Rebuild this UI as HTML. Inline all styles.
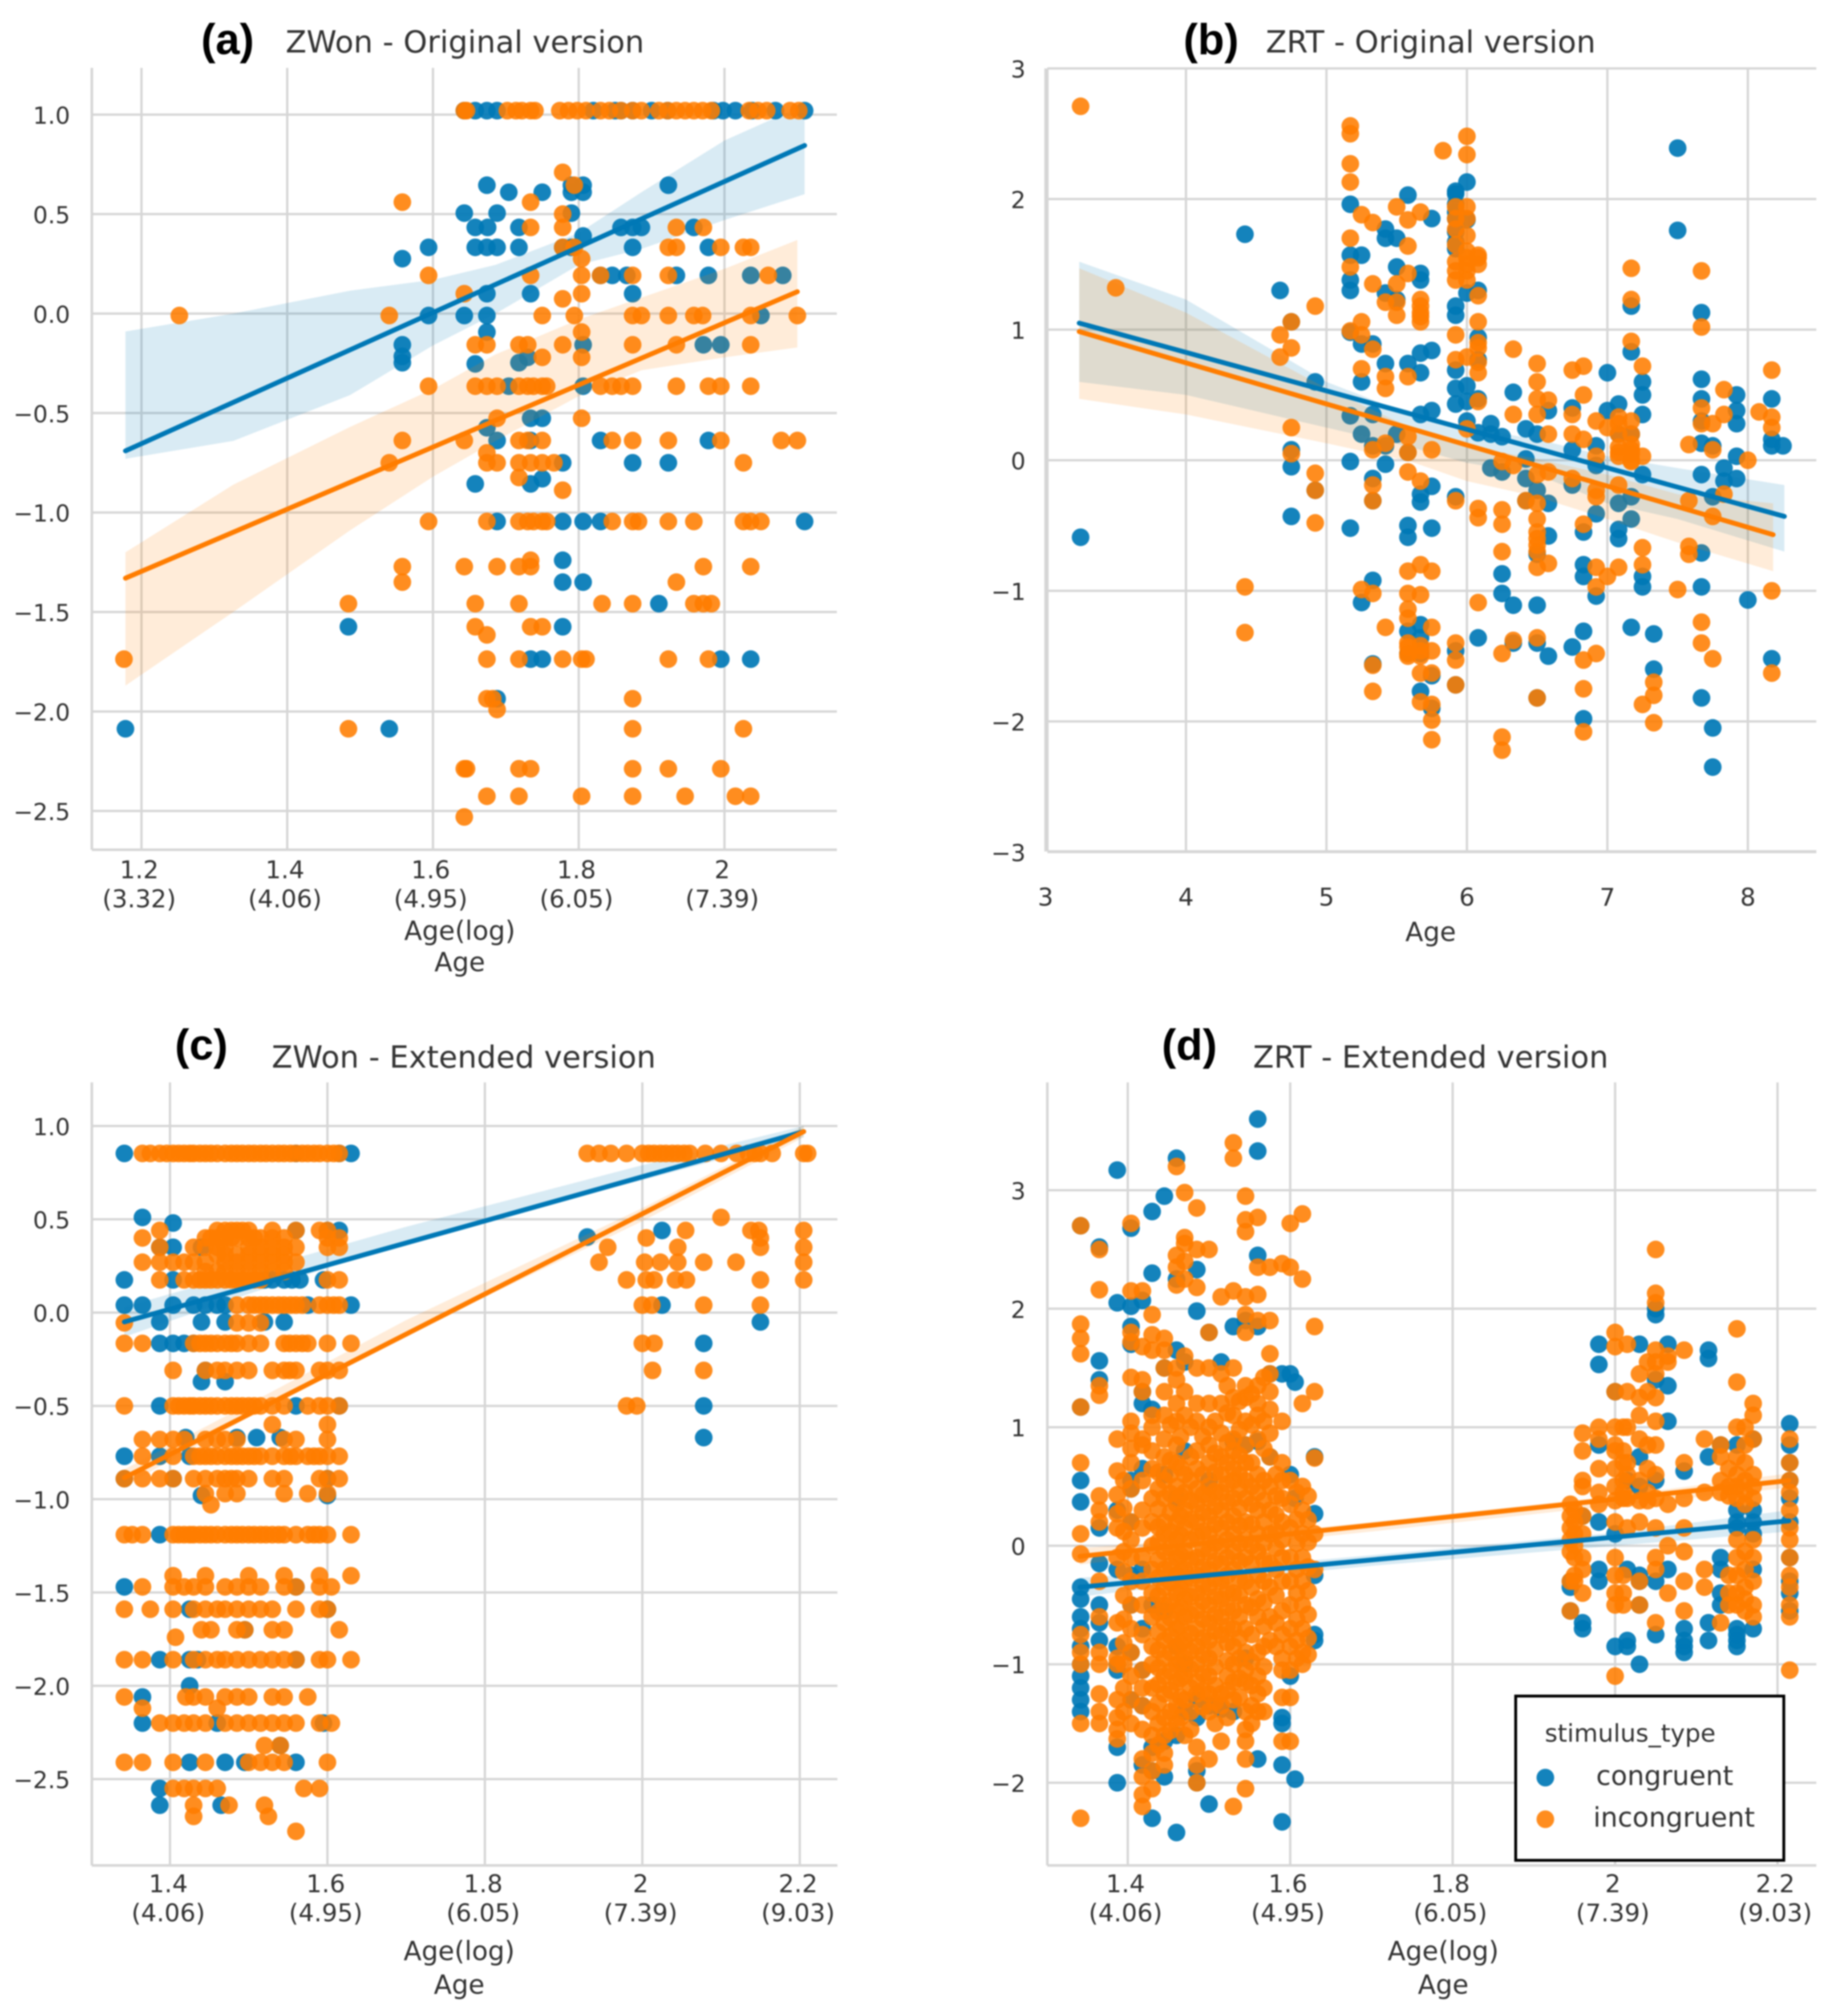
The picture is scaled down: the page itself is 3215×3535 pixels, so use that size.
<!DOCTYPE html>
<html lang="en">
<head>
<meta charset="utf-8">
<title>ZWon and ZRT by Age</title>
<style>
html,body{margin:0;padding:0;background:#fff;}
body{width:3215px;height:3535px;overflow:hidden;}
svg{display:block;filter:blur(1.2px);}
text{font-family:"DejaVu Sans","Liberation Sans",sans-serif;fill:#333;}
.panel-tag{font-family:"Liberation Sans",sans-serif;font-weight:bold;fill:#000;}
</style>
</head>
<body>
<svg id="figure" xmlns="http://www.w3.org/2000/svg" width="3215" height="3535" viewBox="0 0 3215 3535"></svg>
<script>
/* ---------- Panel (a): ZWon original — rows of [y, [x values]] ---------- */
const aXTicks = [1.2,1.4,1.6,1.8,2];
const aXTickLabels = ["1.2","1.4","1.6","1.8","2"];
const aXTickAges = ["(3.32)","(4.06)","(4.95)","(6.05)","(7.39)"];
const aYTicks = [1,0.5,0,-0.5,-1,-1.5,-2,-2.5];
const aYTickLabels = ["1.0","0.5","0.0","−0.5","−1.0","−1.5","−2.0","−2.5"];
const aCongruent = [
[1.02,[1.643,1.658,1.674,1.688,1.82,1.85,1.858,1.874,1.9,1.922,1.985,1.998,2.015,2.038,2.07,2.11]],
[0.645,[1.674,1.79,1.806,1.923]],[0.61,[1.704,1.75,1.79,1.806]],[0.505,[1.643,1.688,1.79]],
[0.433,[1.658,1.675,1.718,1.858,1.874,1.886,1.958]],[0.39,[1.806]],
[0.333,[1.594,1.658,1.674,1.688,1.718,1.778,1.79,1.874,1.978]],[0.276,[1.558]],
[0.192,[1.83,1.846,1.866,1.934,1.978,2.036,2.08]],[0.1,[1.674,1.734,1.874]],
[-0.01,[1.594,1.643,1.674,2.05]],[-0.093,[1.674]],[-0.157,[1.558,1.806,1.971,1.995]],
[-0.215,[1.558]],[-0.247,[1.558,1.718]],[-0.253,[1.658]],[-0.22,[1.73]],[-0.365,[1.704,1.806]],
[-0.526,[1.734,1.75]],[-0.574,[1.674]],[-0.638,[1.688,1.734,1.83,1.978]],[-0.75,[1.778,1.874,1.923]],
[-0.856,[1.658,1.734]],[-0.83,[1.75]],[-1.045,[1.688,1.778,1.806,1.83,2.11]],[-1.24,[1.778]],
[-1.35,[1.778,1.806]],[-1.458,[1.91]],[-1.574,[1.484,1.778]],[-1.737,[1.734,1.75,1.995,2.036]],
[-1.936,[1.688]],[-2.087,[1.178,1.54]]
];
const aIncongruent = [
[1.02,[1.643,1.646,1.702,1.714,1.722,1.734,1.74,1.774,1.786,1.798,1.81,1.83,1.842,1.858,1.874,1.886,1.91,1.922,1.934,1.946,1.958,1.97,1.982,2.034,2.046,2.058,2.09,2.102]],
[0.71,[1.778]],[0.645,[1.794]],[0.56,[1.558,1.734]],[0.5,[1.778]],[0.433,[1.734,1.778,1.934,1.971]],
[0.333,[1.778,1.794,1.923,1.934,1.995,2.026,2.036]],[0.276,[1.804]],
[0.192,[1.594,1.734,1.804,1.83,1.874,1.923,2.06]],[0.1,[1.643,1.804]],[0.074,[1.778]],
[-0.01,[1.252,1.54,1.75,1.794,1.874,1.886,1.923,1.958,1.97,2.036,2.1]],[-0.093,[1.804]],
[-0.157,[1.658,1.674,1.718,1.73,1.778,1.874,1.934,2.036]],[-0.22,[1.75,1.804]],
[-0.365,[1.594,1.658,1.674,1.688,1.718,1.73,1.738,1.75,1.756,1.83,1.846,1.858,1.874,1.934,1.978,1.995,2.036]],
[-0.526,[1.688,1.804]],[-0.638,[1.558,1.643,1.718,1.73,1.75,1.846,1.874,1.923,1.995,2.078,2.1]],
[-0.7,[1.674]],[-0.75,[1.54,1.674,1.688,1.718,1.734,1.75,1.766,2.026]],[-0.824,[1.718]],[-0.888,[1.778]],
[-1.045,[1.594,1.674,1.718,1.73,1.738,1.75,1.756,1.846,1.874,1.882,1.923,1.958,2.026,2.036,2.05]],
[-1.24,[1.734]],[-1.272,[1.558,1.643,1.688,1.718,1.734,1.971,2.036]],[-1.35,[1.558,1.934]],
[-1.458,[1.484,1.658,1.718,1.832,1.874,1.958,1.971,1.982]],[-1.574,[1.658,1.734,1.75]],[-1.615,[1.674]],
[-1.737,[1.176,1.674,1.718,1.778,1.804,1.81,1.923,1.978]],[-1.936,[1.674,1.682,1.874]],[-1.99,[1.688]],
[-2.087,[1.484,1.874,2.026]],[-2.288,[1.643,1.646,1.718,1.734,1.874,1.923,1.995]],
[-2.426,[1.674,1.718,1.804,1.874,1.946,2.015,2.036]],[-2.53,[1.643]]
];
const aBlueLineX = [1.178,2.11];
const aBlueLineY = [-0.69,0.845];
const aOrangeLineX = [1.178,2.10];
const aOrangeLineY = [-1.33,0.11];
const aBlueBandX = [1.178,1.326,1.486,1.6,1.686,1.8,1.886,2.0,2.11];
const aBlueBandUpper = [-0.09,0.0,0.115,0.17,0.245,0.405,0.61,0.87,1.05];
const aBlueBandLower = [-0.73,-0.64,-0.41,-0.16,0.0,0.245,0.325,0.47,0.6];
const aOrangeBandX = [1.178,1.326,1.486,1.6,1.686,1.8,1.886,2.0,2.10];
const aOrangeBandUpper = [-1.2,-0.86,-0.57,-0.38,-0.205,-0.03,0.08,0.225,0.37];
const aOrangeBandLower = [-1.87,-1.5,-1.09,-0.82,-0.64,-0.415,-0.285,-0.22,-0.17];

/* ---------- Panel (b): ZRT original — columns of [x, [y values]] ---------- */
const bXTicks = [3,4,5,6,7,8];
const bXTickLabels = ["3","4","5","6","7","8"];
const bYTicks = [3,2,1,0,-1,-2,-3];
const bYTickLabels = ["3","2","1","0","−1","−2","−3"];
const bCongruent = [
[3.25,[-0.59]],[4.42,[1.73]],[4.67,[1.3]],[4.75,[1.06,0.08,-0.05,-0.43]],[4.92,[0.6,-0.23]],
[5.17,[1.96,1.57,1.38,1.3,0.98,0.34,-0.01,-0.52]],[5.25,[1.57,0.89,0.6,0.2,-1.09]],
[5.33,[0.89,0.35,0.11,-0.14,-0.31,-0.92,-1.56]],[5.42,[1.77,1.7,1.28,0.74,0.11,-0.03]],
[5.5,[1.7,1.48,1.23,0.2]],[5.58,[2.03,0.74,0.06,-0.5,-0.59,-1.31,-1.48]],
[5.67,[1.43,1.38,0.82,0.67,0.35,-0.26,-0.32,-1.26,-1.36,-1.48,-1.77]],
[5.75,[1.85,0.84,0.38,-0.2,-0.52,-1.65,-1.9]],
[5.92,[2.06,2.04,1.96,1.9,1.85,1.75,1.67,1.62,1.18,1.11,0.69,0.55,0.43,-0.28,-1.46,-1.72]],
[6,[2.13,1.84,1.28,0.57,0.45,0.3]],[6.08,[1.3,0.94,0.77,0.47,0.21,-1.36]],[6.17,[0.28,0.2,-0.06]],
[6.25,[0.18,-0.09,-0.87,-1.02]],[6.33,[0.52,-1.11,-1.4]],[6.42,[0.24,0.01,-0.14,-0.31]],
[6.5,[0.2,-0.23,-0.72,-1.11,-1.4,-1.82]],[6.58,[0.38,-0.33,-0.58,-1.5]],[6.75,[0.4,0.08,-0.19,-1.43]],
[6.83,[-0.55,-0.8,-0.89,-1.31,-1.98]],[6.92,[0.11,-0.04,-0.41,-1.04]],[7,[0.67,0.38]],
[7.08,[0.43,0.2,-0.33,-0.53,-0.6]],[7.17,[1.18,0.83,0.2,-0.28,-0.45,-1.28]],
[7.25,[0.6,0.5,0.35,-0.11,-0.89,-0.97]],[7.33,[-1.33,-1.6]],[7.5,[2.39,1.76]],
[7.67,[1.13,0.62,0.47,0.3,0.13,-0.11,-0.71,-0.97,-1.82]],[7.75,[0.11,-0.28,-2.05,-2.35]],
[7.83,[-0.06,-0.16]],[7.92,[0.5,0.38,0.28,0.03,-0.14]],[8,[-1.07]],[8.17,[0.47,0.16,0.11,-1.52]],[8.25,[0.11]]
];
const bIncongruent = [
[3.25,[2.71]],[3.5,[1.32]],[4.42,[-0.97,-1.32]],[4.67,[0.96,0.79]],[4.75,[1.06,0.86,0.25,0.05]],
[4.92,[1.18,-0.1,-0.23,-0.48]],[5.17,[2.56,2.5,2.27,2.13,1.7,1.48,0.99]],[5.25,[1.88,1.06,0.96,0.7,-0.99]],
[5.33,[1.82,1.35,0.85,0.08,-0.19,-0.31,-1.02,-1.57,-1.77]],[5.42,[1.21,0.64,0.55,0.13,-1.28]],
[5.5,[1.94,1.35,1.21,1.11]],[5.58,[1.84,1.64,1.43,0.64,0.18,0.06,-0.09,-0.85,-1.02,-1.14,-1.21,-1.4,-1.43,-1.48,-1.5]],
[5.67,[1.9,1.23,1.18,1.13,1.1,1.06,-0.16,-0.8,-1.03,-1.42,-1.46,-1.5,-1.63,-1.85]],
[5.75,[0.08,-0.85,-1.28,-1.46,-1.63,-1.87,-1.99,-2.14]],[5.83,[2.37]],
[5.92,[1.94,1.85,1.77,1.65,1.52,1.45,1.38,0.96,0.77,-0.31,-1.4,-1.53,-1.72]],
[6,[2.48,2.34,1.94,1.85,1.72,1.6,1.55,1.5,1.45,1.38,0.79,0.24]],[6.08,[1.57,1.55,1.5,1.26,1.06,0.9,0.86,0.75,0.67,0.45,-0.37,-0.44,-1.09]],
[6.25,[-0.01,-0.38,-0.49,-0.7,-1.48,-2.12,-2.22]],[6.33,[0.85,0.35,-0.04,-1.38]],[6.42,[-0.31]],
[6.5,[0.74,0.6,0.47,0.35,-0.11,-0.33,-0.45,-0.55,-0.6,-0.65,-0.7,-0.82,-1.36,-1.82]],[6.58,[0.46,0.2,-0.09,-0.79]],
[6.75,[0.69,0.35,0.2,-0.14]],[6.83,[0.72,0.5,0.16,-0.49,-1.53,-1.75,-2.08]],
[6.92,[0.3,0.03,-0.23,-0.28,-0.82,-0.97,-1.48]],[7,[0.25,-0.89]],[7.08,[0.33,0.28,0.2,0.1,0.06,0.03,-0.19,-0.82]],
[7.17,[1.47,1.23,0.91,0.3,0.2,0.12,0.08,0.05,0,-0.01]],[7.25,[0.72,0.03,-0.67,-0.8,-1.87]],[7.33,[-1.7,-1.8,-2.01]],
[7.5,[-0.99]],[7.58,[0.12,-0.31,-0.66,-0.72]],[7.67,[1.45,1.02,0.4,0.28,-1.24,-1.4]],
[7.75,[0.28,0.08,-0.43,-1.52]],[7.83,[0.54,0.35,-0.26]],[8,[0]],[8.08,[0.37]],[8.17,[0.69,0.33,0.25,-1,-1.63]]
];
const bBlueLineX = [3.24,8.26];
const bBlueLineY = [1.05,-0.43];
const bOrangeLineX = [3.24,8.18];
const bOrangeLineY = [0.985,-0.57];
const bBlueBandX = [3.24,4,5,5.6,6,6.5,7,7.5,8.26];
const bBlueBandUpper = [1.52,1.23,0.6,0.35,0.25,0.16,0.03,-0.06,-0.19];
const bBlueBandLower = [0.6,0.5,0.25,0.1,-0.02,-0.11,-0.33,-0.45,-0.7];
const bOrangeBandX = [3.24,4,5,5.6,6,6.5,7,7.5,8.18];
const bOrangeBandUpper = [1.47,1.13,0.55,0.25,0.11,0.01,-0.11,-0.26,-0.33];
const bOrangeBandLower = [0.47,0.35,0.13,-0.01,-0.16,-0.28,-0.45,-0.63,-0.85];

/* ---------- Panel (c): ZWon extended — rows of [y, [x values]] ---------- */
const cXTicks = [1.4,1.6,1.8,2,2.2];
const cXTickLabels = ["1.4","1.6","1.8","2","2.2"];
const cXTickAges = ["(4.06)","(4.95)","(6.05)","(7.39)","(9.03)"];
const cYTicks = [1,0.5,0,-0.5,-1,-1.5,-2,-2.5];
const cYTickLabels = ["1.0","0.5","0.0","−0.5","−1.0","−1.5","−2.0","−2.5"];
const cCongruent = [
[0.853,[1.342,1.56,1.615,1.63]],[0.51,[1.365]],[0.48,[1.404]],[0.44,[1.56,1.6,1.615,2.025]],[0.405,[1.93]],
[0.35,[1.387,1.404,1.44]],[0.175,[1.342,1.404,1.52,1.53,1.545,1.555,1.565,1.595]],
[0.04,[1.342,1.365,1.404,1.43,1.445,1.46,1.47,1.575,1.63,2.025]],[-0.05,[1.387,1.44,1.47,1.52,1.545,2.15]],
[-0.165,[1.387,1.404,1.418,1.43,2.078]],[-0.31,[1.445]],[-0.37,[1.44,1.47]],[-0.5,[1.387,1.56,1.615,2.078]],
[-0.67,[1.42,1.485,1.51,1.54,2.078]],[-0.77,[1.342,1.387,1.425]],[-0.89,[1.342,1.404,1.6]],[-0.98,[1.44,1.6]],
[-1.19,[1.387]],[-1.47,[1.342,1.56]],[-1.59,[1.425,1.6]],[-1.7,[1.495]],[-1.86,[1.387,1.425,1.435,1.56]],
[-2,[1.425]],[-2.06,[1.365]],[-2.2,[1.365,1.46,1.595]],[-2.32,[1.54]],[-2.41,[1.425,1.47,1.495,1.56]],
[-2.55,[1.387]],[-2.64,[1.387,1.465]]
];
const cIncongruent = [
[0.853,[1.365,1.375,1.387,1.396,1.404,1.411,1.418,1.425,1.43,1.438,1.445,1.452,1.46,1.47,1.478,1.485,1.492,1.5,1.507,1.515,1.522,1.53,1.538,1.545,1.553,1.56,1.568,1.575,1.583,1.59,1.6,1.608,1.615,1.93,1.945,1.96,1.98,2.0,2.008,2.015,2.023,2.03,2.038,2.045,2.053,2.06,2.08,2.1,2.12,2.135,2.143,2.15,2.165,2.205,2.21]],
[0.51,[2.1]],[0.44,[1.387,1.46,1.47,1.478,1.485,1.492,1.5,1.53,1.56,1.59,1.6,2.055,2.138,2.148,2.205]],
[0.4,[1.365,1.445,1.452,1.46,1.47,1.478,1.485,1.5,1.507,1.515,1.53,1.545,1.6,1.615,2.005,2.15]],
[0.35,[1.387,1.43,1.445,1.46,1.47,1.5,1.515,1.53,1.545,1.56,1.6,1.615,1.956,2.045,2.15,2.205]],
[0.31,[1.46,1.47,1.485,1.5,1.515,1.53,1.545]],
[0.27,[1.365,1.387,1.404,1.418,1.43,1.445,1.47,1.485,1.5,1.515,1.53,1.545,1.56,1.945,2.003,2.023,2.045,2.078,2.119,2.205]],
[0.22,[1.445,1.46,1.47,1.485,1.5,1.515,1.53,1.545]],
[0.175,[1.387,1.418,1.43,1.438,1.445,1.452,1.46,1.47,1.478,1.485,1.492,1.5,1.507,1.515,1.6,1.615,1.98,2.005,2.015,2.042,2.056,2.15,2.205]],
[0.04,[1.485,1.5,1.507,1.515,1.522,1.53,1.538,1.545,1.553,1.56,1.568,1.59,1.6,1.608,1.615,2.0,2.012,2.078,2.15]],
[-0.055,[1.342,1.485,1.5,1.515]],
[-0.165,[1.342,1.365,1.43,1.438,1.445,1.452,1.46,1.47,1.478,1.485,1.5,1.515,1.545,1.552,1.56,1.568,1.575,1.6,1.63,2.0,2.015]],
[-0.31,[1.404,1.445,1.46,1.47,1.485,1.5,1.53,1.545,1.552,1.56,1.59,1.6,1.615,2.013,2.078]],
[-0.5,[1.342,1.404,1.411,1.418,1.425,1.43,1.438,1.445,1.452,1.46,1.47,1.478,1.485,1.492,1.5,1.507,1.515,1.53,1.545,1.575,1.59,1.6,1.615,1.98,1.993]],
[-0.6,[1.53,1.6]],[-0.68,[1.365,1.387,1.404,1.418,1.445,1.46,1.47,1.485,1.545,1.56,1.6]],
[-0.77,[1.365,1.404,1.43,1.438,1.445,1.452,1.46,1.47,1.478,1.485,1.492,1.5,1.507,1.515,1.53,1.545,1.553,1.56,1.575,1.583,1.59,1.6,1.615]],
[-0.89,[1.342,1.365,1.387,1.404,1.43,1.445,1.46,1.47,1.478,1.485,1.5,1.53,1.545,1.59,1.6,1.615]],
[-0.97,[1.445,1.47,1.485,1.545,1.575,1.6]],[-1.03,[1.452]],
[-1.19,[1.342,1.352,1.365,1.404,1.411,1.418,1.425,1.43,1.438,1.445,1.452,1.46,1.47,1.478,1.485,1.492,1.5,1.507,1.515,1.522,1.53,1.538,1.545,1.56,1.575,1.583,1.59,1.6,1.63]],
[-1.41,[1.404,1.445,1.5,1.545,1.59,1.63]],
[-1.47,[1.365,1.404,1.418,1.43,1.445,1.47,1.485,1.5,1.515,1.545,1.56,1.59,1.605]],
[-1.59,[1.342,1.375,1.404,1.43,1.445,1.46,1.47,1.485,1.5,1.515,1.53,1.56,1.59,1.6]],
[-1.7,[1.44,1.452,1.485,1.495,1.53,1.545,1.615]],[-1.74,[1.407]],
[-1.86,[1.342,1.365,1.404,1.43,1.445,1.46,1.47,1.485,1.5,1.515,1.53,1.545,1.56,1.59,1.6,1.63]],
[-2.06,[1.342,1.42,1.43,1.445,1.47,1.485,1.5,1.53,1.545,1.575]],[-2.12,[1.365,1.46]],
[-2.2,[1.387,1.404,1.418,1.43,1.445,1.47,1.485,1.5,1.515,1.53,1.545,1.56,1.59,1.605]],[-2.32,[1.52,1.54]],
[-2.41,[1.342,1.365,1.404,1.445,1.5,1.515,1.53,1.545,1.6]],[-2.55,[1.404,1.418,1.43,1.445,1.46,1.57,1.59]],
[-2.64,[1.43,1.475,1.52]],[-2.7,[1.43,1.525]],[-2.78,[1.56]]
];
const cBlueLineX = [1.342,2.205];
const cBlueLineY = [-0.05,0.97];
const cOrangeLineX = [1.342,2.205];
const cOrangeLineY = [-0.885,0.97];
const cBlueBandX = [1.342,1.5,1.7,2.0,2.205];
const cBlueBandUpper = [0.03,0.22,0.46,0.79,1.0];
const cBlueBandLower = [-0.13,0.1,0.38,0.71,0.94];
const cOrangeBandX = [1.342,1.5,1.7,2.0,2.205];
const cOrangeBandUpper = [-0.84,-0.49,-0.04,0.56,1.0];
const cOrangeBandLower = [-0.93,-0.56,-0.12,0.49,0.94];

/* ---------- Panel (d): ZRT extended — columns of [x, [y values]] ---------- */
const dXTicks = [1.4,1.6,1.8,2,2.2];
const dXTickLabels = ["1.4","1.6","1.8","2","2.2"];
const dXTickAges = ["(4.06)","(4.95)","(6.05)","(7.39)","(9.03)"];
const dYTicks = [3,2,1,0,-1,-2];
const dYTickLabels = ["3","2","1","0","−1","−2"];
const dCongruent = [
[1.342,[2.7,1.17,0.55,0.37,-0.35,-0.45,-0.6,-0.7,-0.85,-1.0,-1.1,-1.2,-1.3,-1.4]],
[1.365,[2.52,1.56,1.4,0.15,-0.15,-0.5,-0.65,-0.8]],[1.387,[3.17,2.05,0.3,-0.2,-0.85,-1.0,-1.05,-1.7,-2.0]],
[1.404,[2.68,2.02,1.85,1.7,0.55,0.48,0.2,-0.25,-0.5,-0.9,-1.3]],[1.418,[2.07,1.3,1.2,0.65,-0.2,-0.7,-1.05,-1.35,-1.85]],
[1.43,[2.82,2.3,1.15,-0.5,-1.7,-1.9,-2.3]],[1.445,[2.95,1.5,0.6,-0.55,-1.65,-1.95]],
[1.46,[3.27,2.25,1.65,0.4,-0.85,-1.6,-2.42]],[1.47,[1.55,0.8,-1.0,-1.4]],
[1.485,[2.33,1.98,-1.3,-1.45,-1.9,-2.0]],[1.5,[1.8,0.55,-1.35,-2.18]],[1.515,[1.55,-1.38]],
[1.53,[1.85,0.88,-1.4]],[1.545,[1.9,0.85,-0.95]],[1.56,[3.6,3.33,2.45,1.85,0.88,-1.8]],
[1.575,[1.45,0.75]],[1.59,[1.45,-1.45,-1.5,-1.85,-2.33]],[1.6,[1.45,0.6,-1.1]],
[1.606,[1.38,0.4,-1.97]],[1.63,[0.75,0.27,-0.25,-0.75,-0.8]],
[1.945,[-0.3,-0.35,-0.55]],[1.96,[0.25,-0.65,-0.7]],[1.98,[1.7,1.53,0.85,0.2,-0.2,-0.3]],
[2,[1.3,0.1,-0.85]],[2.015,[0.55,-0.2,-0.8,-0.85]],[2.03,[1.7,0.75,0.5,-0.25,-0.3,-0.5,-1.0]],
[2.05,[2.0,1.95,1.4,0.55,-0.3,-0.75]],[2.065,[1.7,1.35,1.05,-0.2]],[2.085,[0.63,-0.7,-0.8,-0.85,-0.9]],
[2.115,[1.65,1.58,0.75,-0.65,-0.8]],[2.13,[0.85,-0.1,-0.2,-0.4,-0.5]],
[2.15,[0.85,0.3,0.2,0.15,-0.7,-0.75,-0.8,-0.85]],[2.17,[0.9,0.3,0.2,0.1,-0.2,-0.7]],
[2.215,[1.03,0.85,0.7,0.55,0.4,0.2,-0.1,-0.3,-0.4,-0.55]]
];
const dIncongruent = [
[1.342,[2.7,1.87,1.75,1.62,1.17,0.7,0.1,-0.07,-0.75,-0.9,-1.0,-1.5,-2.3]],
[1.365,[2.5,2.16,1.35,1.27,0.42,0.3,0.2,-0.3,-0.6,-0.9,-1.0,-1.25,-1.4,-1.5]],
[1.387,[0.9,0.63,0.43,0.27,0.15,-0.1,-0.65,-0.95,-1.0,-1.3,-1.45,-1.55,-1.63]],
[1.395,[0.55,0.32,0.12,-0.05,-0.22,-0.42,-0.62,-0.82,-1.0,-1.2,-1.4]],
[1.404,[2.72,2.15,1.8,1.72,1.42,1.05,0.95,0.82,0.7,0.48,0.2,0.05,-0.1,-0.3,-0.5,-0.7,-0.9,-1.1,-1.3,-1.5]],
[1.418,[2.15,1.68,1.4,1.3,0.9,0.85,0.55,0.3,0.15,-0.1,-0.3,-0.5,-0.75,-1.05,-1.2,-1.35,-1.55,-1.8,-1.95,-2.1,-2.2]],
[1.43,[1.95,1.78,1.65,1.1,1.0,0.8,0.65,0.4,0.2,0.0,-0.2,-0.4,-0.6,-0.85,-1.0,-1.2,-1.4,-1.6,-1.75,-1.9,-2.05]],
[1.4375,[0.62,0.48,0.31,0.16,0.03,-0.12,-0.27,-0.42,-0.56,-0.73,-0.88,-1.03,-1.17,-1.33,-1.5,-1.68]],
[1.445,[1.75,1.65,1.5,1.3,1.1,0.9,0.75,0.55,0.4,0.2,0.1,-0.05,-0.2,-0.35,-0.5,-0.65,-0.8,-0.95,-1.1,-1.25,-1.45,-1.6,-1.75,-1.85]],
[1.4525,[1.02,0.72,0.6,0.44,0.28,0.12,-0.02,-0.17,-0.31,-0.47,-0.61,-0.76,-0.9,-1.06,-1.22,-1.4,-1.56]],
[1.46,[3.2,2.45,2.35,2.2,1.5,1.4,1.2,1.05,0.85,0.7,0.5,0.35,0.2,0.05,-0.1,-0.25,-0.4,-0.55,-0.7,-0.85,-1.0,-1.15,-1.35,-1.5]],
[1.465,[0.92,0.66,0.42,0.25,0.09,-0.08,-0.22,-0.36,-0.52,-0.68,-0.83,-0.98,-1.12,-1.28,-1.45]],
[1.47,[2.98,2.6,2.55,2.4,2.25,1.6,1.3,1.1,0.6,0.45,0.3,0.15,-0.05,-0.2,-0.3,-0.45,-0.6,-0.8,-0.95,-1.1,-1.3,-1.6]],
[1.4775,[1.0,0.75,0.55,0.38,0.22,0.05,-0.12,-0.27,-0.43,-0.58,-0.74,-0.89,-1.04,-1.2,-1.4,-1.55]],
[1.485,[2.85,2.5,2.18,1.5,1.2,1.05,0.8,0.65,0.48,0.35,0.2,0.08,-0.1,-0.25,-0.4,-0.55,-0.7,-0.85,-1.0,-1.15,-1.25,-1.7,-1.85,-2.0]],
[1.4925,[0.92,0.6,0.43,0.28,0.12,-0.03,-0.18,-0.33,-0.47,-0.62,-0.78,-0.92,-1.08,-1.22,-1.36]],
[1.5,[2.5,1.8,1.5,1.2,1.0,0.85,0.7,0.5,0.4,0.25,0.1,-0.05,-0.2,-0.35,-0.5,-0.65,-0.8,-0.95,-1.1,-1.25,-1.4,-1.8]],
[1.5075,[1.05,0.78,0.62,0.46,0.33,0.18,0.02,-0.13,-0.28,-0.43,-0.58,-0.72,-0.88,-1.02,-1.18,-1.32,-1.5]],
[1.515,[2.1,1.45,1.2,0.95,0.75,0.6,0.45,0.3,0.15,0.0,-0.15,-0.3,-0.45,-0.6,-0.75,-1.25,-1.35,-1.65]],
[1.5225,[1.35,1.12,0.87,0.7,0.52,0.37,0.2,0.05,-0.1,-0.25,-0.38,-0.52,-0.68,-0.82,-0.97,-1.1,-1.22,-1.45]],
[1.53,[3.4,3.27,2.15,1.5,1.25,1.1,0.9,0.8,0.65,0.55,0.4,0.25,0.1,-0.05,-0.2,-0.4,-0.55,-0.7,-0.85,-1.0,-1.15,-1.3,-2.2]],
[1.5375,[1.22,0.98,0.76,0.6,0.47,0.32,0.17,0.02,-0.13,-0.28,-0.42,-0.6,-0.78,-0.95,-1.12,-1.28]],
[1.545,[2.95,2.75,2.65,2.1,1.95,1.8,1.35,1.25,1.05,0.85,0.7,0.55,0.4,0.2,0.05,-0.1,-0.3,-0.5,-0.7,-0.9,-1.05,-1.15,-1.4,-1.55,-1.65,-1.8,-2.05]],
[1.5525,[1.28,1.02,0.7,0.5,0.35,0.18,0.0,-0.15,-0.35,-0.52,-0.75,-0.98,-1.18,-1.35,-1.5]],
[1.56,[2.77,2.35,2.12,1.9,1.35,1.2,1.1,0.9,0.6,0.45,0.3,0.1,-0.05,-0.25,-0.45,-0.6,-0.9,-1.1,-1.25,-1.4]],
[1.5675,[1.42,1.05,0.82,0.55,0.38,0.2,0.02,-0.12,-0.3,-0.48,-0.68,-0.85,-1.02,-1.2,-1.4]],
[1.575,[2.35,1.9,1.62,1.45,1.3,1.15,0.95,0.75,0.5,0.3,0.1,-0.15,-0.35,-0.6,-0.8]],
[1.5825,[0.6,0.42,0.26,0.12,-0.02,-0.2,-0.42,-0.65,-0.85]],
[1.59,[2.38,1.05,0.7,0.55,0.4,0.2,0.05,-0.1,-0.3,-0.55,-0.75,-0.95,-1.05,-1.28,-1.65]],
[1.6,[2.72,2.35,0.55,0.35,0.15,-0.1,-0.3,-0.5,-0.7,-0.85,-1.05,-1.28,-1.65]],
[1.608,[0.45,0.22,0.02,-0.2,-0.4,-0.62,-0.8,-0.95]],
[1.615,[2.8,2.25,1.2,0.5,0.3,0.1,-0.1,-0.3,-0.5,-0.7,-0.9,-1.0]],
[1.622,[0.42,0.22,0.03,-0.18,-0.38,-0.58,-0.78,-0.92]],
[1.63,[1.85,1.3,0.74,0.1,-0.2]],
[1.945,[0.35,0.25,0.15,0.05,-0.05,-0.3,-0.55]],[1.95,[0.3,0.2,0.1,0,-0.1,-0.25,-0.3]],[1.96,[0.95,0.8,0.55,0.5,0.25,0.1,-0.1,-0.2,-0.4]],
[1.98,[1.0,0.9,0.65,0.45,0.35]],[2,[1.8,1.68,1.3,1.0,0.85,0.8,0.65,0.5,0.38,0.2,-0.1,-0.25,-0.4,-0.5,-1.1]],
[2.01,[1.0,0.8,0.7,0.55,0.45,0.4,-0.25,-0.4,-0.5]],
[2.015,[1.7,1.3,1.0,0.7,0.6,0.4,0.15]],[2.03,[1.45,1.25,1.1,0.9,0.55,0.38,0.2,-0.3,-0.5]],
[2.04,[1.55,1.3,0.85,0.65,0.45,0.38]],
[2.05,[2.5,2.13,2.05,1.65,1.55,1.45,1.25,1.05,0.85,0.6,0.4,0.15,-0.1,-0.2,-0.65]],
[2.065,[1.6,1.55,0.35,0.0,-0.4]],[2.085,[1.65,0.7,0.4,0.15,-0.05,-0.3,-0.55]],[2.11,[0.9,0.45,-0.2,-0.35]],
[2.13,[0.85,0.75,0.55,0.45,-0.65]],[2.14,[0.65,0.5,0.42,-0.25,-0.4,-0.5]],
[2.15,[1.83,1.38,1.0,0.75,0.6,0.5,0.4,0.05,-0.1,-0.25,-0.4,-0.5]],
[2.16,[1.0,0.85,0.7,0.55,0.45,0.35,-0.05,-0.2,-0.35,-0.45,-0.55]],
[2.17,[1.2,1.1,0.9,0.6,0.5,0.4,0.05,-0.1,-0.3,-0.5,-0.6]],
[2.215,[0.9,0.7,0.55,0.45,0.3,0.15,0.05,-0.1,-0.25,-0.35,-0.5,-0.6,-1.05]]
];
const dBlueLineX = [1.341,2.214];
const dBlueLineY = [-0.35,0.21];
const dOrangeLineX = [1.341,2.214];
const dOrangeLineY = [-0.09,0.55];
const dBlueBandX = [1.341,1.5,1.7,2.0,2.214];
const dBlueBandUpper = [-0.27,-0.2,-0.08,0.11,0.3];
const dBlueBandLower = [-0.43,-0.3,-0.17,0.0,0.12];
const dOrangeBandX = [1.341,1.5,1.7,2.0,2.214];
const dOrangeBandUpper = [-0.02,0.06,0.2,0.42,0.61];
const dOrangeBandLower = [-0.16,-0.02,0.12,0.34,0.49];

const legendLabels = ["congruent","incongruent"];

/* ---------- Drawing ---------- */
const NS = "http://www.w3.org/2000/svg";
const root = document.getElementById("figure");
const BLUE = "#0078b6";
const ORANGE = "#ff7d00";
const GRID = "#d6d6d6";

function scaler(v0, p0, v1, p1) {
  return function (v) { return p0 + (v - v0) * (p1 - p0) / (v1 - v0); };
}
function makeGroup(parent, name) {
  const g = document.createElementNS(NS, "g");
  
  
  parent.appendChild(g);
  return g;
}
function makeText(parent, name, x, y, size, anchor, str, cls) {
  const t = document.createElementNS(NS, "text");
  t.setAttribute("x", x);
  t.setAttribute("y", y);
  t.setAttribute("font-size", size);
  t.setAttribute("text-anchor", anchor);
  if (cls) t.setAttribute("class", cls);
  t.textContent = str;
  
  
  parent.appendChild(t);
  return t;
}
function makeLine(parent, name, x1, y1, x2, y2, stroke, width, cap) {
  const l = document.createElementNS(NS, "line");
  l.setAttribute("x1", x1);
  l.setAttribute("y1", y1);
  l.setAttribute("x2", x2);
  l.setAttribute("y2", y2);
  l.setAttribute("stroke", stroke);
  l.setAttribute("stroke-width", width);
  if (cap) l.setAttribute("stroke-linecap", cap);
  
  
  parent.appendChild(l);
  return l;
}
function drawPoints(parent, name, rows, isRowByY, xs, ys, color, opacity) {
  const g = makeGroup(parent, name);
  rows.forEach(function (row) {
    row[1].forEach(function (v) {
      const dataX = isRowByY ? v : row[0];
      const dataY = isRowByY ? row[0] : v;
      const c = document.createElementNS(NS, "circle");
      c.setAttribute("cx", xs(dataX).toFixed(1));
      c.setAttribute("cy", ys(dataY).toFixed(1));
      c.setAttribute("r", 15.5);
      c.setAttribute("fill", color);
      c.setAttribute("fill-opacity", opacity);
      
      
      g.appendChild(c);
    });
  });
}
function drawBand(parent, name, bx, upper, lower, xs, ys, color) {
  const pts = [];
  bx.forEach(function (v, i) { pts.push(xs(v).toFixed(1) + "," + ys(upper[i]).toFixed(1)); });
  for (let i = bx.length - 1; i >= 0; i--) pts.push(xs(bx[i]).toFixed(1) + "," + ys(lower[i]).toFixed(1));
  const p = document.createElementNS(NS, "polygon");
  p.setAttribute("points", pts.join(" "));
  p.setAttribute("fill", color);
  p.setAttribute("fill-opacity", "0.15");
  
  
  parent.appendChild(p);
}
function drawPanel(cfg) {
  const g = makeGroup(root, cfg.name);
  const xs = scaler(cfg.xa[0], cfg.xa[1], cfg.xa[2], cfg.xa[3]);
  const ys = scaler(cfg.ya[0], cfg.ya[1], cfg.ya[2], cfg.ya[3]);
  const grid = makeGroup(g, "gridlines");
  cfg.xTicks.forEach(function (v) {
    makeLine(grid, "x-gridline", xs(v), cfg.top, xs(v), cfg.bottom, GRID, 4);
  });
  cfg.yTicks.forEach(function (v) {
    makeLine(grid, "y-gridline", cfg.left, ys(v), cfg.right, ys(v), GRID, 4);
  });
  makeLine(g, "y-axis-spine", cfg.left, cfg.top, cfg.left, cfg.bottom, GRID, 4.5);
  makeLine(g, "x-axis-spine", cfg.left, cfg.bottom, cfg.right, cfg.bottom, GRID, 4.5);

  cfg.yTicks.forEach(function (v, i) {
    makeText(g, "y-tick-label", cfg.yLabelRight, ys(v) + 16, 41, "end", cfg.yLabels[i]);
  });
  cfg.xTicks.forEach(function (v, i) {
    makeText(g, "x-tick-label", xs(v) + cfg.xLabelShift, cfg.tickY1, 43, "middle", cfg.xLabels[i]);
    if (cfg.xAges) makeText(g, "x-tick-age-label", xs(v) + cfg.xLabelShift, cfg.tickY2, 43, "middle", cfg.xAges[i]);
  });
  cfg.axisLabels.forEach(function (lab, i) {
    makeText(g, "x-axis-title", cfg.axisLabelX, cfg.axisLabelY[i], 46, "middle", lab);
  });
  makeText(g, "chart-title", cfg.titleX, cfg.titleY, 53.5, "middle", cfg.title);
  makeText(g, "panel-tag", cfg.tagX, cfg.tagY, 76, "middle", cfg.tag, "panel-tag");

  drawPoints(g, "congruent-points", cfg.blue, cfg.rowByY, xs, ys, BLUE, 0.92);
  drawBand(g, "congruent-confidence-band", cfg.blueBand[0], cfg.blueBand[1], cfg.blueBand[2], xs, ys, BLUE);
  drawPoints(g, "incongruent-points", cfg.orange, cfg.rowByY, xs, ys, ORANGE, 0.88);
  drawBand(g, "incongruent-confidence-band", cfg.orangeBand[0], cfg.orangeBand[1], cfg.orangeBand[2], xs, ys, ORANGE);
  makeLine(g, "congruent-regression-line", xs(cfg.blueLine[0][0]), ys(cfg.blueLine[1][0]), xs(cfg.blueLine[0][1]), ys(cfg.blueLine[1][1]), BLUE, 8.5, "round");
  makeLine(g, "incongruent-regression-line", xs(cfg.orangeLine[0][0]), ys(cfg.orangeLine[1][0]), xs(cfg.orangeLine[0][1]), ys(cfg.orangeLine[1][1]), ORANGE, 8.5, "round");
}

drawPanel({name:"panel-a", xa:[1.2,248,2,1270], ya:[1,201,-2.5,1422], left:161, right:1467, top:119, bottom:1490,
  xTicks:aXTicks, xLabels:aXTickLabels, xAges:aXTickAges, yTicks:aYTicks, yLabels:aYTickLabels, rowByY:true,
  blue:aCongruent, orange:aIncongruent, blueBand:[aBlueBandX,aBlueBandUpper,aBlueBandLower], orangeBand:[aOrangeBandX,aOrangeBandUpper,aOrangeBandLower],
  blueLine:[aBlueLineX,aBlueLineY], orangeLine:[aOrangeLineX,aOrangeLineY], yLabelRight:123, xLabelShift:-4, tickY1:1540, tickY2:1591,
  axisLabels:["Age(log)","Age"], axisLabelX:806, axisLabelY:[1648,1703], title:"ZWon - Original version", titleX:815, titleY:92, tag:"(a)", tagX:399, tagY:95});
drawPanel({name:"panel-b", xa:[4,2079,8,3064], ya:[2,349,-2,1265], left:1836, right:3184, top:120, bottom:1493,
  xTicks:bXTicks, xLabels:bXTickLabels, yTicks:bYTicks, yLabels:bYTickLabels, rowByY:false,
  blue:bCongruent, orange:bIncongruent, blueBand:[bBlueBandX,bBlueBandUpper,bBlueBandLower], orangeBand:[bOrangeBandX,bOrangeBandUpper,bOrangeBandLower],
  blueLine:[bBlueLineX,bBlueLineY], orangeLine:[bOrangeLineX,bOrangeLineY], yLabelRight:1798, xLabelShift:0, tickY1:1588,
  axisLabels:["Age"], axisLabelX:2508, axisLabelY:[1650], title:"ZRT - Original version", titleX:2508, titleY:92, tag:"(b)", tagX:2123, tagY:95});
drawPanel({name:"panel-c", xa:[1.4,298,2.2,1402], ya:[0.5,2138,-2,2956], left:161, right:1468, top:1898, bottom:3271,
  xTicks:cXTicks, xLabels:cXTickLabels, xAges:cXTickAges, yTicks:cYTicks, yLabels:cYTickLabels, rowByY:true,
  blue:cCongruent, orange:cIncongruent, blueBand:[cBlueBandX,cBlueBandUpper,cBlueBandLower], orangeBand:[cOrangeBandX,cOrangeBandUpper,cOrangeBandLower],
  blueLine:[cBlueLineX,cBlueLineY], orangeLine:[cOrangeLineX,cOrangeLineY], yLabelRight:123, xLabelShift:-3, tickY1:3318, tickY2:3369,
  axisLabels:["Age(log)","Age"], axisLabelX:805, axisLabelY:[3437,3496], title:"ZWon - Extended version", titleX:813, titleY:1872, tag:"(c)", tagX:353, tagY:1858});
drawPanel({name:"panel-d", xa:[1.4,1977,2.2,3116], ya:[3,2087,-2,3126], left:1836, right:3184, top:1898, bottom:3271,
  xTicks:dXTicks, xLabels:dXTickLabels, xAges:dXTickAges, yTicks:dYTicks, yLabels:dYTickLabels, rowByY:false,
  blue:dCongruent, orange:dIncongruent, blueBand:[dBlueBandX,dBlueBandUpper,dBlueBandLower], orangeBand:[dOrangeBandX,dOrangeBandUpper,dOrangeBandLower],
  blueLine:[dBlueLineX,dBlueLineY], orangeLine:[dOrangeLineX,dOrangeLineY], yLabelRight:1798, xLabelShift:-4, tickY1:3318, tickY2:3369,
  axisLabels:["Age(log)","Age"], axisLabelX:2530, axisLabelY:[3437,3496], title:"ZRT - Extended version", titleX:2508, titleY:1872, tag:"(d)", tagX:2085, tagY:1858});

/* Legend */
const legend = makeGroup(root, "legend");
const legendBox = document.createElementNS(NS, "rect");
legendBox.setAttribute("x", 2657);
legendBox.setAttribute("y", 2974);
legendBox.setAttribute("width", 470);
legendBox.setAttribute("height", 288);
legendBox.setAttribute("fill", "#fff");
legendBox.setAttribute("stroke", "#000");
legendBox.setAttribute("stroke-width", 5);


legend.appendChild(legendBox);
makeText(legend, "legend-title", 2708, 3054, 43, "start", "stimulus_type");
[BLUE, ORANGE].forEach(function (color, i) {
  const cy = 3117 + i * 73;
  const dot = document.createElementNS(NS, "circle");
  dot.setAttribute("cx", 2709);
  dot.setAttribute("cy", cy);
  dot.setAttribute("r", 15.5);
  dot.setAttribute("fill", color);
  dot.setAttribute("fill-opacity", i ? 0.88 : 0.92);
  
  
  legend.appendChild(dot);
  makeText(legend, "legend-entry", i ? 2793 : 2798, cy + 13, 47, "start", legendLabels[i]);
});
</script>
</body>
</html>
